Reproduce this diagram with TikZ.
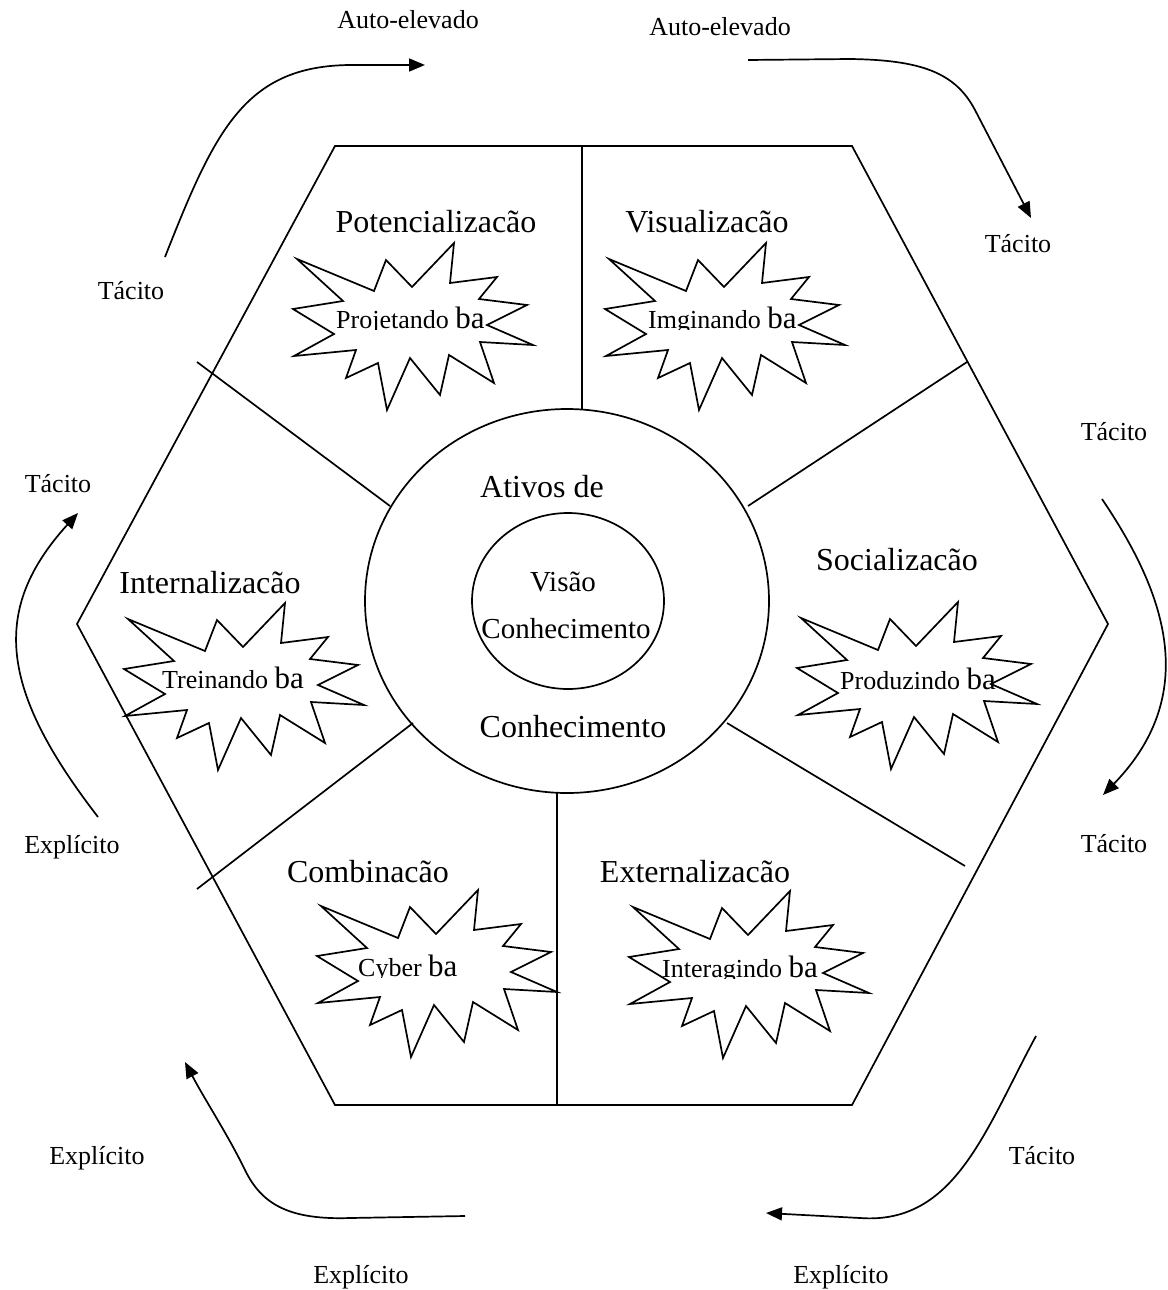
\documentclass[tikz,border=0pt]{standalone}
\usepackage{fontspec}
\setmainfont{Liberation Serif}
\usetikzlibrary{arrows.meta}
\tikzset{
  ln/.style={line width=1.7pt, line join=miter},
  arr/.style={line width=1.7pt, -{Triangle[length=16pt,width=13pt]}},
  big/.style={font=\fontsize{32}{38}\selectfont, inner sep=0pt, anchor=base},
  mid/.style={font=\fontsize{29}{34}\selectfont, inner sep=0pt, anchor=base},
  small/.style={font=\fontsize{26}{31}\selectfont, inner sep=0pt, anchor=base},
  batext/.style={font=\fontsize{26}{31}\selectfont, inner sep=0pt, anchor=base west},
}
\newcommand\burst[2]{\draw[ln,shift={(#1,#2)}] (0,0) -- (-4,40) -- (43,34) -- (25,56) -- (73,62) -- (33,82) -- (79,102) -- (26,99) -- (40,140) -- (-5,112) -- (-14,152) -- (-44,115) -- (-67,167) -- (-76,120) -- (-108,135) -- (-98,107) -- (-160,113) -- (-120,91) -- (-161,66) -- (-111,58) -- (-157,16) -- (-80,48) -- (-68,17) -- (-42,44) -- cycle;}
\newcommand\batxt[4]{%
  \begin{scope}
  \clip (#2-10,#3-45) rectangle (#2+220,#3+1);
  \node[batext] (#1) at (#2,#3) {#4 {\fontsize{31}{36}\selectfont ba}};
  \end{scope}}
\begin{document}
\begin{tikzpicture}[x=1pt,y=-1pt]
\useasboundingbox[fill=white] (0,0) rectangle (1167,1290);

% hexagon
\draw[ln] (335,146) -- (852,146) -- (1108,624) -- (852,1105) -- (335,1105) -- (77,624) -- cycle;
% circles
\draw[ln] (567,601) ellipse [x radius=202pt, y radius=192pt];
\draw[ln] (568,601) ellipse [x radius=96pt, y radius=88pt];
% dividers
\draw[ln] (582,146) -- (582,410);
\draw[ln] (557,793) -- (557,1105);
\draw[ln] (197,362) -- (390,506);
\draw[ln] (967,362) -- (748,506);
\draw[ln] (197,889) -- (413,723);
\draw[ln] (965,866) -- (727,723);

% starbursts
\burst{454}{243}
\burst{766}{243}
\burst{285}{603}
\burst{958}{602}
\burst{478}{890}
\burst{790}{891}

\batxt{t1}{336}{328}{Projetando}
\batxt{t2}{648}{328}{Imginando}
\batxt{t3}{162}{688}{Treinando}
\batxt{t4}{840}{689}{Produzindo}
\batxt{t5}{358}{976}{Cyber}
\batxt{t6}{662}{977}{Interagindo}

% section labels
\node[big] (potl) at (436,232) {Potencializacão};
\node[big] (visl) at (707,232) {Visualizacão};
\node[big] (intl) at (210,593) {Internalizacão};
\node[big] (socl) at (897,570) {Socializacão};
\node[big] (coml) at (368,882) {Combinacão};
\node[big] (extl) at (695,882) {Externalizacão};
\node[big] (ativ) at (542,497) {Ativos de};
\node[mid] (visao) at (563,591) {Visão};
\node[mid] (conh1) at (566,638) {Conhecimento};
\node[big] (conh2) at (573,737) {Conhecimento};

% outer labels
\node[small] (ae1) at (408,29) {Auto-elevado};
\node[small] (ae2) at (720,36) {Auto-elevado};
\node[small] (ta1) at (131,299) {Tácito};
\node[small] (ta2) at (1018,252) {Tácito};
\node[small] (ta3) at (1114,440) {Tácito};
\node[small] (ta4) at (1114,852) {Tácito};
\node[small] (ta5) at (1042,1164) {Tácito};
\node[small] (ta6) at (58,492) {Tácito};
\node[small] (ex1) at (841,1283) {Explícito};
\node[small] (ex2) at (361,1283) {Explícito};
\node[small] (ex3) at (97,1164) {Explícito};
\node[small] (ex4) at (72,853) {Explícito};

% arrow end points
\coordinate (a1s) at (165,257); \coordinate (a1e) at (425,65);
\coordinate (a2s) at (748,60);  \coordinate (a2e) at (1031,218);
\coordinate (a3s) at (1102,499); \coordinate (a3e) at (1103,795);
\coordinate (a4s) at (1036,1036); \coordinate (a4e) at (766,1213);
\coordinate (a5s) at (465,1216); \coordinate (a5e) at (185,1062);
\coordinate (a6s) at (98,817); \coordinate (a6e) at (78,513);

\draw[arr] (a1s) .. controls (215,130) and (245,66) .. (350,65) -- (a1e);
\draw[arr] (a2s) -- (850,59) .. controls (920,60) and (955,72) .. (975,110) -- (a2e);
\draw[arr] (a3s) .. controls (1160,585) and (1205,690) .. (a3e);
\draw[arr] (a4s) .. controls (985,1130) and (955,1225) .. (860,1218) -- (a4e);
\draw[arr] (a5s) -- (350,1218) .. controls (290,1220) and (262,1205) .. (245,1170) .. controls (228,1135) and (205,1100) .. (a5e);
\draw[arr] (a6s) .. controls (0,690) and (-10,610) .. (a6e);
\end{tikzpicture}
\end{document}
